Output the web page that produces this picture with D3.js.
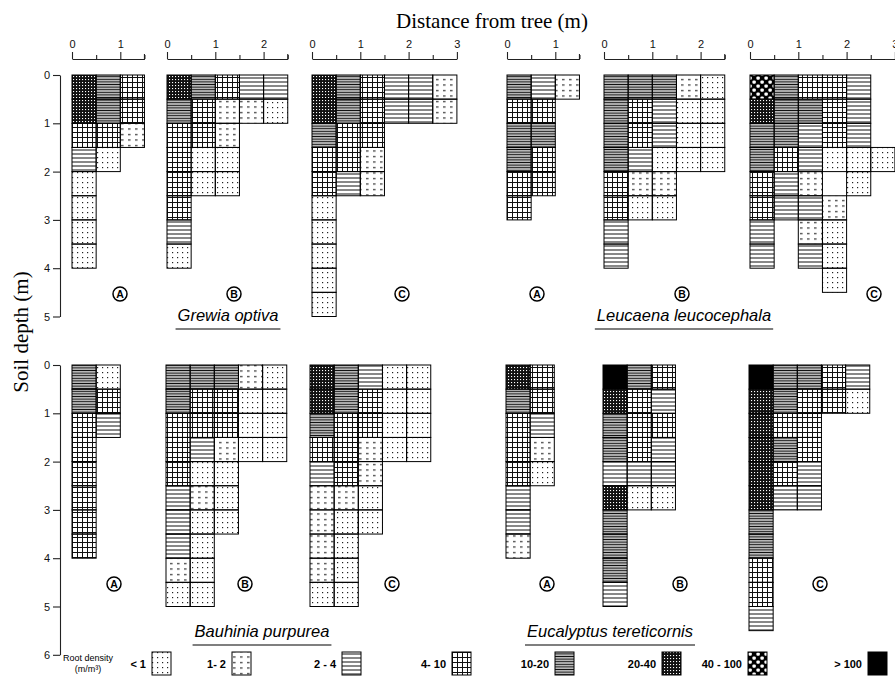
<!DOCTYPE html>
<html>
<head>
<meta charset="utf-8">
<script src="https://cdn.jsdelivr.net/npm/d3@7"></script>
<style>
body { margin: 0; background: #fff; }
</style>
</head>
<body>
<div id="chart"></div>
<script>
// root density classes (m/m3), index = class code used in the grids
const classLabels = ["< 1", "1- 2", "2 - 4", "4- 10", "10-20", "20-40", "40 - 100", "> 100"];

// one string per 0.5 m soil layer, one digit per 0.5 m of distance, "." = not sampled
const grewiaA = ["543", "543", "331", "20", "0", "0", "0", "0"];
const grewiaB = ["54322", "43110", "331", "300", "300", "3", "2", "0"];
const grewiaC = ["543221", "543221", "433", "331", "321", "0", "0", "0", "0", "0"];
const leucaenaA = ["421", "33", "44", "43", "33", "3"];
const leucaenaB = ["44410", "43200", "43200", "42000", "311", "300", "2", "2"];
const leucaenaC = ["64332", "54432", "44232", "432000", "321.0", "3221", "2.10", "2.20", "...0"];
const bauhiniaA = ["40", "43", "32", "3", "3", "3", "3", "3"];
const bauhiniaB = ["44410", "43300", "33300", "32100", "300", "210", "200", "20", "10", "00"];
const bauhiniaC = ["54200", "54300", "43300", "33100", "231", "110", "100", "10", "10", "00"];
const eucalyptusA = ["53", "43", "32", "31", "30", "2", "2", "1"];
const eucalyptusB = ["743", "532", "433", "432", "222", "500", "4", "4", "4", "2"];
const eucalyptusC = ["74432", "54330", "533", "543", "532", "522", "4", "4", "3", "3", "2"];

const speciesNames = ["Grewia optiva", "Leucaena leucocephala", "Bauhinia purpurea", "Eucalyptus tereticornis"];
const topDepthTicks = [0, 1, 2, 3, 4, 5];
const bottomDepthTicks = [0, 1, 2, 3, 4, 5, 6];

const width = 895, height = 684;
const ppm = 48.3;      // pixels per metre, both directions
const step = 0.5;      // sampling block size (m)

const svg = d3.select("#chart").append("svg")
    .attr("width", width)
    .attr("height", height)
    .style("font-family", "'Liberation Sans', Arial, sans-serif");

// ---------- fill patterns ----------
const defs = svg.append("defs");
const pat = (id, w, h) => defs.append("pattern")
    .attr("id", id).attr("patternUnits", "userSpaceOnUse")
    .attr("width", w).attr("height", h);

// < 1 : fine dots
let p = pat("pat0", 5, 5);
p.append("rect").attr("x", 2).attr("y", 2).attr("width", 1.2).attr("height", 1.2).attr("fill", "#222");
// 1-2 : short dashes
p = pat("pat1", 7, 5.5);
p.append("rect").attr("x", 2).attr("y", 2).attr("width", 2.6).attr("height", 1.1).attr("fill", "#222");
// 2-4 : horizontal lines
p = pat("pat2", 10, 4);
p.append("rect").attr("x", 0).attr("y", 1.5).attr("width", 10).attr("height", 1).attr("fill", "#111");
// 4-10 : grid
p = pat("pat3", 5, 5);
p.append("rect").attr("x", 0).attr("y", 2).attr("width", 5).attr("height", 1).attr("fill", "#111");
p.append("rect").attr("x", 2).attr("y", 0).attr("width", 1).attr("height", 5).attr("fill", "#111");
// 10-20 : dense horizontal lines
p = pat("pat4", 12, 2.6);
p.append("rect").attr("x", 0).attr("y", 0.6).attr("width", 12).attr("height", 1.4).attr("fill", "#111");
// 20-40 : very dense grid
p = pat("pat5", 3, 3);
p.append("rect").attr("width", 3).attr("height", 3).attr("fill", "#111");
p.append("rect").attr("x", 1).attr("y", 1).attr("width", 1.1).attr("height", 1.1).attr("fill", "#fff");
// 40-100 : checker
p = pat("pat6", 8, 8);
p.append("rect").attr("width", 8).attr("height", 8).attr("fill", "#000");
p.append("rect").attr("x", 0.4).attr("y", 0.4).attr("width", 3.4).attr("height", 3.4).attr("rx", 1.2).attr("fill", "#fff");
p.append("rect").attr("x", 4.4).attr("y", 4.4).attr("width", 3.4).attr("height", 3.4).attr("rx", 1.2).attr("fill", "#fff");
// > 100 : solid
p = pat("pat7", 4, 4);
p.append("rect").attr("width", 4).attr("height", 4).attr("fill", "#000");

// ---------- panels ----------
const topY0 = 75, bottomY0 = 365;
const panels = [
    { grid: grewiaA, x0: 72, y0: topY0, span: 1.5, letter: "A", lx: 120 },
    { grid: grewiaB, x0: 167, y0: topY0, span: 2.5, letter: "B", lx: 234 },
    { grid: grewiaC, x0: 312, y0: topY0, span: 3, letter: "C", lx: 402 },
    { grid: leucaenaA, x0: 507, y0: topY0, span: 1.5, letter: "A", lx: 537 },
    { grid: leucaenaB, x0: 604, y0: topY0, span: 2.5, letter: "B", lx: 682 },
    { grid: leucaenaC, x0: 750, y0: topY0, span: 3, letter: "C", lx: 874 },
    { grid: bauhiniaA, x0: 72, y0: bottomY0, letter: "A", lx: 114 },
    { grid: bauhiniaB, x0: 166, y0: bottomY0, letter: "B", lx: 245 },
    { grid: bauhiniaC, x0: 310, y0: bottomY0, letter: "C", lx: 392 },
    { grid: eucalyptusA, x0: 506, y0: bottomY0, letter: "A", lx: 547 },
    { grid: eucalyptusB, x0: 603, y0: bottomY0, letter: "B", lx: 680 },
    { grid: eucalyptusC, x0: 749, y0: bottomY0, letter: "C", lx: 820 }
];

const circled = (x, y, letter) => {
    svg.append("circle").attr("cx", x).attr("cy", y).attr("r", 7)
        .attr("fill", "none").attr("stroke", "#000").attr("stroke-width", 1.5);
    svg.append("text").attr("x", x).attr("y", y + 3.8).attr("text-anchor", "middle")
        .attr("font-size", 10.5).attr("font-weight", "bold").text(letter);
};

panels.forEach(pn => {
    const x = d3.scaleLinear().domain([0, 3]).range([pn.x0, pn.x0 + 3 * ppm]);
    const y = d3.scaleLinear().domain([0, 6]).range([pn.y0, pn.y0 + 6 * ppm]);
    const cells = [];
    pn.grid.forEach((row, r) => row.split("").forEach((c, k) => {
        if (c !== ".") cells.push({ depth: r * step, dist: k * step, cls: +c });
    }));

    svg.append("g").selectAll("rect")
        .data(cells)
        .enter()
        .append("rect")
        .attr("x", d => x(d.dist))
        .attr("y", d => y(d.depth))
        .attr("width", d => x(d.dist + step) - x(d.dist))
        .attr("height", d => y(d.depth + step) - y(d.depth))
        .attr("fill", d => `url(#pat${d.cls})`)
        .attr("stroke", "#000")
        .attr("stroke-width", 1);

    // distance axis only on the top row
    if (pn.span) {
        const xa = d3.scaleLinear().domain([0, pn.span]).range([x(0), x(pn.span)]);
        const major = d3.range(0, Math.floor(pn.span) + 1);
        const minor = d3.range(0.5, pn.span + 0.01, 1);
        const ax = svg.append("g").attr("transform", "translate(0,59)");
        ax.call(d3.axisTop(xa).tickValues(major).tickFormat(d3.format("d")).tickSize(7).tickSizeOuter(0));
        ax.append("g").call(d3.axisTop(xa).tickValues(minor).tickFormat("").tickSize(4).tickSizeOuter(0))
            .select(".domain").remove();
        if (pn.span % 1) {
            ax.append("line").attr("x1", x(pn.span)).attr("x2", x(pn.span))
                .attr("y1", 0).attr("y2", -5).attr("stroke", "#000");
        }
        ax.selectAll("text").attr("font-size", 11).attr("fill", "#111").attr("dy", "-0.1em");
        ax.selectAll("path, line").attr("stroke", "#222").attr("stroke-width", 1.1);
    }

    circled(pn.lx, pn.y0 === topY0 ? 294 : 584, pn.letter);
});

// ---------- depth axes ----------
const depthAxis = (y0, ticks) => {
    const y = d3.scaleLinear().domain([0, d3.max(ticks)]).range([y0, y0 + d3.max(ticks) * ppm]);
    const g = svg.append("g").attr("transform", "translate(60,0)")
        .call(d3.axisLeft(y).tickValues(ticks).tickFormat(d3.format("d")).tickSize(7).tickSizeOuter(0));
    g.selectAll("text").attr("font-size", 11).attr("fill", "#111");
    g.selectAll("path, line").attr("stroke", "#222").attr("stroke-width", 1.1);
};
depthAxis(topY0, topDepthTicks);
depthAxis(bottomY0, bottomDepthTicks);

// ---------- titles ----------
svg.append("text").attr("x", 492).attr("y", 28).attr("text-anchor", "middle")
    .attr("font-family", "'Liberation Serif', 'DejaVu Serif', serif").attr("font-size", 21)
    .text("Distance from tree (m)");
svg.append("text").attr("transform", "translate(28,332) rotate(-90)").attr("text-anchor", "middle")
    .attr("font-family", "'Liberation Serif', 'DejaVu Serif', serif").attr("font-size", 21)
    .text("Soil depth (m)");

const species = [
    { name: speciesNames[0], cx: 228, y: 321 },
    { name: speciesNames[1], cx: 684, y: 321 },
    { name: speciesNames[2], cx: 262, y: 637 },
    { name: speciesNames[3], cx: 610, y: 637 }
];
species.forEach(s => {
    const t = svg.append("text").attr("x", s.cx).attr("y", s.y).attr("text-anchor", "middle")
        .attr("font-size", 16.5).attr("font-style", "italic").text(s.name);
    const w = t.node().getComputedTextLength();
    svg.append("line").attr("x1", s.cx - w / 2 - 2).attr("x2", s.cx + w / 2 + 2)
        .attr("y1", s.y + 8).attr("y2", s.y + 8).attr("stroke", "#000").attr("stroke-width", 1.2);
});

// ---------- legend ----------
const legendBoxX = [152, 232, 342, 452, 555, 662, 748, 868];
svg.append("text").attr("x", 88).attr("y", 661).attr("text-anchor", "middle").attr("font-size", 9).text("Root density");
svg.append("text").attr("x", 88).attr("y", 672).attr("text-anchor", "middle").attr("font-size", 9).text("(m/m³)");
classLabels.forEach((lab, i) => {
    svg.append("rect").attr("x", legendBoxX[i]).attr("y", 652).attr("width", 19).attr("height", 23)
        .attr("fill", `url(#pat${i})`).attr("stroke", "#000");
    svg.append("text").attr("x", legendBoxX[i] - 6).attr("y", 668).attr("text-anchor", "end")
        .attr("font-size", 11).attr("font-weight", "bold").text(lab);
});
</script>
</body>
</html>
